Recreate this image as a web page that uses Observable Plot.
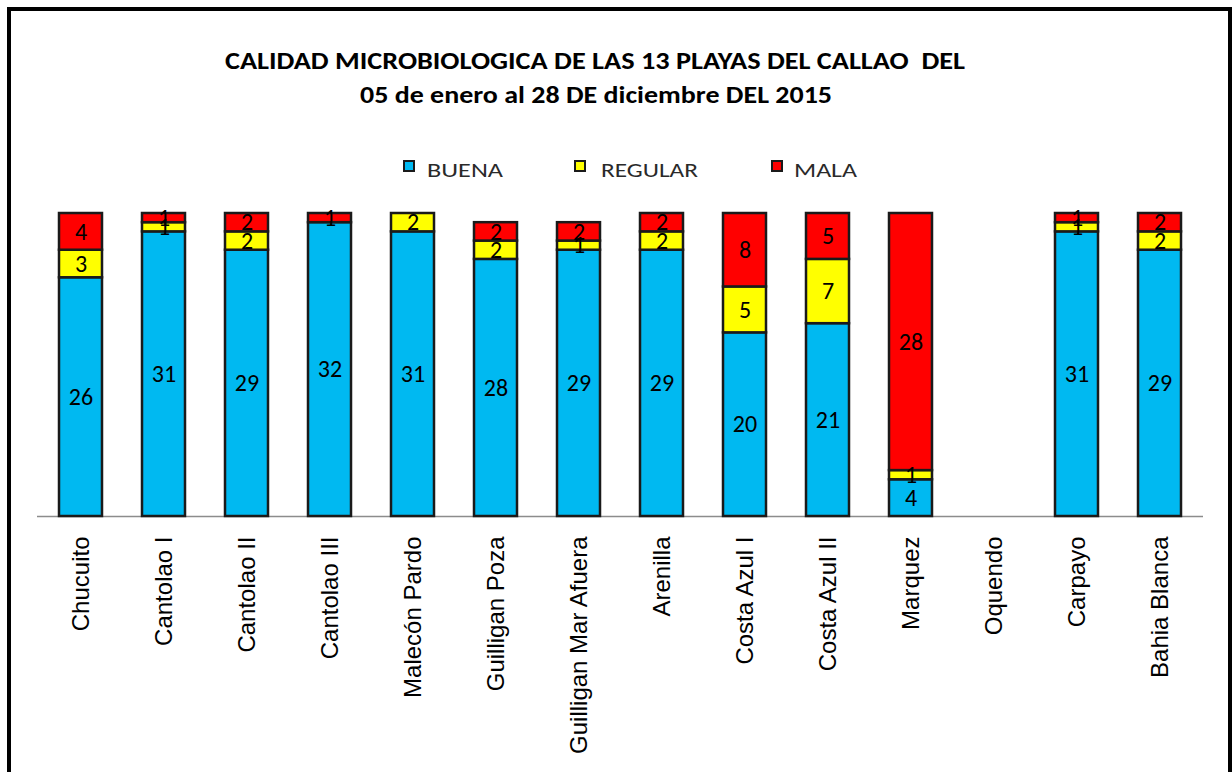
<!DOCTYPE html>
<html>
<head>
<meta charset="utf-8">
<script src="https://cdn.jsdelivr.net/npm/d3@7"></script>
<script src="https://cdn.jsdelivr.net/npm/@observablehq/plot@0.6"></script>
<style>
  html, body { margin: 0; padding: 0; background: #fff; width: 1232px; height: 772px; overflow: hidden; }
  #frame { position: absolute; left: 7px; top: 7px; width: 1225px; height: 820px; box-sizing: border-box; border: 4.5px solid #000; pointer-events: none; }
  #header { position: absolute; left: 0; top: 0; }
  #chart { position: absolute; left: 0; top: 195px; }
</style>
</head>
<body>
<div id="header"></div>
<div id="chart"></div>
<div id="frame"></div>
<script>
const categories = ["Chucuito","Cantolao I","Cantolao II","Cantolao III","Malecón Pardo","Guilligan Poza","Guilligan Mar Afuera","Arenilla","Costa Azul I","Costa Azul II","Marquez","Oquendo","Carpayo","Bahia Blanca"];
const buena   = [26,31,29,32,31,28,29,29,20,21,4,0,31,29];
const regular = [3, 1, 2, 0, 2, 2, 1, 2, 5, 7, 1,0, 1, 2];
const mala    = [4, 1, 2, 1, 0, 2, 2, 2, 8, 5,28,0, 1, 2];
const seriesNames = ["BUENA","REGULAR","MALA"];
const seriesColors = ["#00B9F1","#FFFF00","#FF0000"];
const titleLines = ["CALIDAD MICROBIOLOGICA DE LAS 13 PLAYAS DEL CALLAO  DEL", "05 de enero al 28 DE diciembre DEL 2015"];

const rows = categories.flatMap((c, i) => [
  {playa: c, calidad: "BUENA", n: buena[i]},
  {playa: c, calidad: "REGULAR", n: regular[i]},
  {playa: c, calidad: "MALA", n: mala[i]}
]).filter(d => d.n > 0);

// Header: title + legend
const header = d3.select("#header").append("svg")
  .attr("width", 1232).attr("height", 195);
const titleFont = "Carlito, Lato, 'Open Sans', sans-serif";
header.append("text")
  .attr("x", 595).attr("y", 69).attr("text-anchor", "middle")
  .attr("font-family", titleFont).attr("font-weight", 700).attr("font-size", 24)
  .attr("textLength", 740).attr("lengthAdjust", "spacingAndGlyphs")
  .attr("xml:space", "preserve")
  .text(titleLines[0]);
header.append("text")
  .attr("x", 596).attr("y", 103).attr("text-anchor", "middle")
  .attr("font-family", titleFont).attr("font-weight", 700).attr("font-size", 24)
  .attr("textLength", 472).attr("lengthAdjust", "spacingAndGlyphs")
  .text(titleLines[1]);

const legendItems = [
  {sx: 404, tx: 427, tw: 76},
  {sx: 575, tx: 601, tw: 97},
  {sx: 772, tx: 794, tw: 63}
];
seriesNames.forEach((name, i) => {
  const L = legendItems[i];
  header.append("rect")
    .attr("x", L.sx).attr("y", 161).attr("width", 10).attr("height", 10)
    .attr("fill", seriesColors[i]).attr("stroke", "#1a1a1a").attr("stroke-width", 2);
  header.append("text")
    .attr("x", L.tx).attr("y", 177)
    .attr("font-family", "Carlito, Lato, sans-serif").attr("font-size", 21)
    .attr("fill", "#2a2a2a")
    .attr("textLength", L.tw).attr("lengthAdjust", "spacingAndGlyphs")
    .text(name);
});

const chart = Plot.plot({
  width: 1232,
  height: 577,
  marginLeft: 37,
  marginRight: 29,
  marginTop: 18,
  marginBottom: 256,
  style: {fontFamily: "'Liberation Sans', Arial, sans-serif", background: "transparent"},
  x: {domain: categories, paddingInner: 0.48, paddingOuter: 0.24, align: 0.5, label: null},
  y: {domain: [0, 33], axis: null},
  color: {domain: seriesNames, range: seriesColors},
  marks: [
    Plot.ruleY([0], {stroke: "#8c8c8c", strokeWidth: 1.5}),
    Plot.barY(rows, {x: "playa", y: "n", fill: "calidad", stroke: "#1a1a1a", strokeWidth: 2.5}),
    Plot.text(rows, Plot.stackY({x: "playa", y: "n", z: "calidad", text: "n", fontSize: 24, fontFamily: "Carlito, Lato, sans-serif", fill: "#000"})),
    Plot.axisX({tickSize: 0, tickPadding: 17, tickRotate: -90, fontSize: 24, fill: "#000", label: null, dy: 3})
  ]
});
document.getElementById("chart").appendChild(chart);
</script>
</body>
</html>
